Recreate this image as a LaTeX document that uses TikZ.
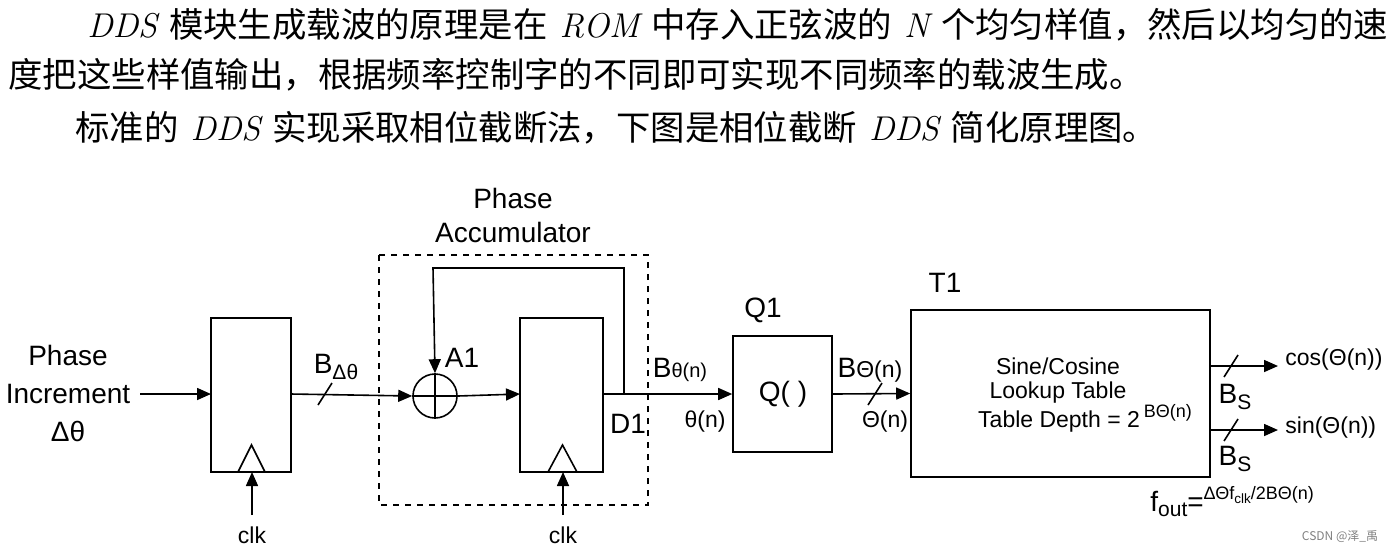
\documentclass[tikz,border=0pt]{standalone}
\usepackage{fontspec}
\setmainfont{Liberation Sans}
\newfontfamily\cjk{Noto Sans CJK SC}
\newfontfamily\lat{Latin Modern Roman}
\newfontfamily\arial{Liberation Sans}
\newcommand{\li}[1]{\hspace{0.35em}{\lat\itshape #1}\hspace{0.35em}}
\newcommand{\sub}[1]{\raisebox{-0.35ex}{\fontsize{0.75em}{1em}\selectfont #1}}
\newcommand{\supx}[1]{\raisebox{0.8ex}{\fontsize{9}{10}\selectfont #1}}
\usetikzlibrary{arrows.meta}
\begin{document}
\begin{tikzpicture}[x=0.5pt,y=-0.5pt,
  lbl/.style={font=\arial\fontsize{14}{16}\selectfont,inner sep=0pt},
  sm/.style={font=\arial\fontsize{11.5}{13}\selectfont,inner sep=0pt},
  txt/.style={font=\cjk\fontsize{17.2}{20}\selectfont,inner sep=0pt,anchor=west},
  box/.style={draw,line width=0.8pt},
  arr/.style={-{Triangle[length=7pt,width=6pt]},line width=0.8pt},
  ln/.style={line width=0.8pt}]
\useasboundingbox (0,0) rectangle (1400,553);
% text
\node[txt] (t1) at (75,25) {\li{DDS}模块生成载波的原理是在\li{ROM}中存入正弦波的\li{N}个均匀样值，然后以均匀的速};
\node[txt] (t2) at (8,75) {度把这些样值输出，根据频率控制字的不同即可实现不同频率的载波生成。};
\node[txt] (t3) at (75,128) {标准的\li{DDS}实现采取相位截断法，下图是相位截断\li{DDS}简化原理图。};
% input
\node[lbl,align=center] (in) at (68,393) {Phase\\[3pt]Increment\\[3pt]Δθ};
\node[box,minimum width=40pt,minimum height=77pt,inner sep=0pt] (r1) at (251,395) {};
\node[box,minimum width=41.5pt,minimum height=77pt,inner sep=0pt] (r2) at (561.5,395) {};
\draw[ln] (238,472) -- (251.5,445) -- (265,472);
\draw[ln] (548,472) -- (562.5,445) -- (577,472);
\coordinate (i0) at (140,394);
\draw[arr] (i0) -- (211,394);
\coordinate (c1) at (252,515); \coordinate (c2) at (563,515);
\draw[arr] (c1) -- (252,472);
\draw[arr] (c2) -- (563,472);
\node[sm] (clk1) at (252,535) {clk};
\node[sm] (clk2) at (563,535) {clk};
% adder
\node[draw,circle,line width=0.8pt,minimum size=22pt,inner sep=0pt] (add) at (435,396) {};
\draw[ln] (add.north) -- (add.south) (add.west) -- (add.east);
\draw[arr] (291,394) -- (add.west);
\draw[ln] (318,405) -- (332,383);
\node[lbl] (bdt) at (336,367) {B\sub{Δθ}};
\node[lbl] (a1) at (462,358) {A1};
\draw[arr] (add.east) -- (520,394);
\draw[arr] (624,394) -- (624,268) -- (433,268) -- (add.north);
\draw[dashed,line width=0.6pt] (379,255) rectangle (648,505);
\node[lbl,align=center] (pa) at (513,215) {Phase\\[1pt]Accumulator};
\node[lbl] (d1) at (628,424) {D1};
% Q
\node[box,minimum width=49.5pt,minimum height=58pt,inner sep=0pt] (q) at (782.5,394) {};
\node[lbl] (qt) at (783,394) {Q( )};
\node[lbl] (q1) at (763,310) {Q1};
\draw[arr] (603,394) -- (q.west);
\node[lbl] (bt) at (680,370) {B{\fontsize{10}{11}\selectfont θ(n)}};
\node[sm] (thn) at (705,422) {θ(n)};
% T
\node[box,minimum width=149.5pt,minimum height=83.5pt,inner sep=0pt] (t) at (1060.5,393.5) {};
\node[lbl] (t1l) at (945,283) {T1};
\node[sm] (s1) at (1058,366) {Sine/Cosine};
\node[sm] (s2) at (1058,393) {Lookup Table};
\node[sm] (s3) at (1085,418) {Table Depth = 2\,\supx{BΘ(n)}};
\draw[arr] (q.east) -- (t.west);
\draw[ln] (868,405) -- (882,383);
\node[lbl] (bT) at (870,370) {B{\fontsize{11.5}{12}\selectfont Θ(n)}};
\node[sm] (Thn) at (885,422) {Θ(n)};
% outputs
\coordinate (o1) at (1278,366); \coordinate (o2) at (1278,430);
\draw[arr] (1210,366) -- (o1);
\draw[arr] (1210,430) -- (o2);
\draw[ln] (1224,377) -- (1238,355);
\draw[ln] (1224,441) -- (1238,419);
\node[sm,anchor=west] (cos) at (1285,360) {cos(Θ(n))};
\node[sm,anchor=west] (sin) at (1285,428) {sin(Θ(n))};
\node[lbl] (bs1) at (1235,397) {B\sub{S}};
\node[lbl] (bs2) at (1235,459) {B\sub{S}};
\node[lbl,anchor=west] (fo) at (1150,502) {f\sub{out}=\supx{ΔΘf\sub{clk}/2BΘ(n)}};
\node[font=\cjk\fontsize{6}{7}\selectfont,text=gray,inner sep=0pt] (wm) at (1340,537) {CSDN @泽\_禹};
\end{tikzpicture}
\end{document}
